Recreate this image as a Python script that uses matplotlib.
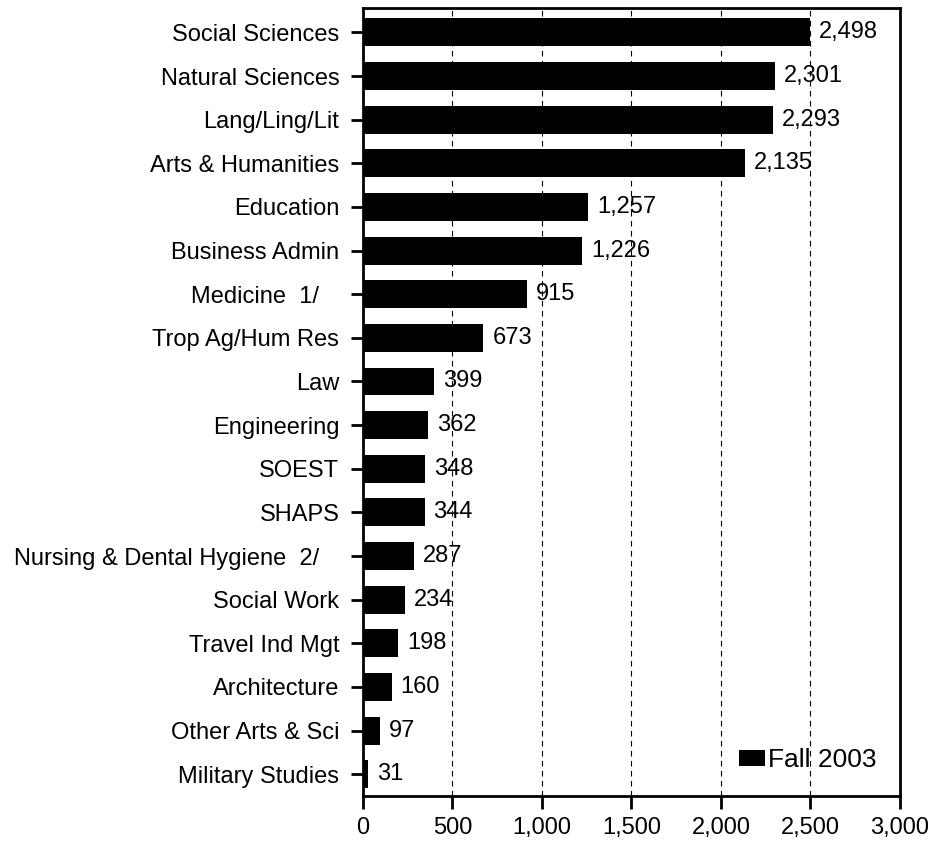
import matplotlib.pyplot as plt
import numpy as np

# Datos (Fall 2003)
colegios = ['Social Sciences', 'Natural Sciences', 'Lang/Ling/Lit', 'Arts & Humanities',
            'Education', 'Business Admin', 'Medicine  1/   ', 'Trop Ag/Hum Res', 'Law',
            'Engineering', 'SOEST', 'SHAPS', 'Nursing & Dental Hygiene  2/   ',
            'Social Work', 'Travel Ind Mgt', 'Architecture', 'Other Arts & Sci',
            'Military Studies']
alumnos = [2498, 2301, 2293, 2135, 1257, 1226, 915, 673, 399, 362, 348, 344, 287,
           234, 198, 160, 97, 31]
ticks_x = [0, 500, 1000, 1500, 2000, 2500, 3000]

plt.rcParams['font.family'] = ['Liberation Sans', 'DejaVu Sans']

fig = plt.figure(figsize=(9.33, 8.41), dpi=100)
ax = fig.add_axes([0.389, 0.0535, 0.5755, 0.9365])

y = np.arange(len(colegios))
ax.barh(y, alumnos, height=0.64, color='black', label='Fall 2003', zorder=2)

for yi, v in zip(y, alumnos):
    ax.text(v + 50, yi, f'{v:,}', va='center', ha='left', fontsize=17, zorder=3)

ax.set_ylim(len(colegios) - 0.5, -0.55)
ax.set_xlim(0, 3000)
ax.set_yticks(y)
ax.set_yticklabels(colegios, fontsize=17)
ax.set_xticks(ticks_x)
ax.set_xticklabels([f'{t:,}' for t in ticks_x], fontsize=17)

for t in ticks_x[1:-1]:
    ax.axvline(t, color='black', linestyle=(0, (5, 4)), linewidth=0.8, zorder=1)

for s in ax.spines.values():
    s.set_linewidth(2)
ax.tick_params(axis='both', direction='out', length=9, width=2)
ax.tick_params(axis='y', pad=8)
ax.tick_params(axis='x', pad=6)

ax.legend(loc='lower right', frameon=False, fontsize=19, handlelength=1.0,
          handleheight=0.6, handletextpad=0.1, borderaxespad=0.5)

plt.savefig('out.png', dpi=100)
